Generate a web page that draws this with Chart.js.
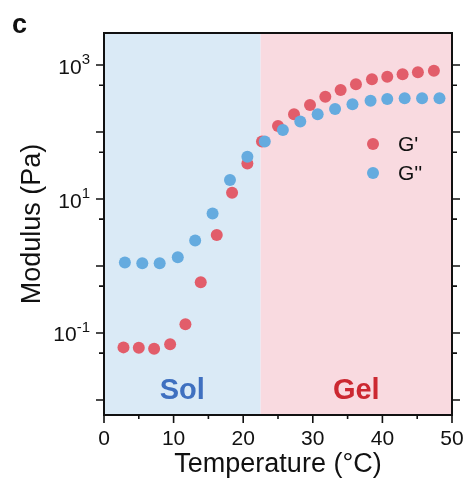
<!DOCTYPE html>
<html>
<head>
<meta charset="utf-8">
<script src="https://cdn.jsdelivr.net/npm/chart.js@4/dist/chart.umd.min.js"></script>
<style>
  body { margin: 0; background: #ffffff; }
  #rahmen { width: 467px; height: 481px; position: relative; }
</style>
</head>
<body>
<div id="rahmen"><canvas id="canvasModul"></canvas></div>
<script>
var temperaturGStrich = [2.8, 5.0, 7.2, 9.5, 11.7, 13.9, 16.2, 18.4, 20.6, 22.7, 25.0, 27.3, 29.6, 31.8, 34.0, 36.2, 38.5, 40.7, 42.9, 45.1, 47.4];
var werteGStrich = [0.061, 0.060, 0.058, 0.068, 0.135, 0.57, 2.9, 12.4, 34, 72, 123, 184, 253, 336, 424, 515, 612, 669, 726, 778, 822];

var temperaturGZweiStrich = [3.0, 5.5, 8.0, 10.6, 13.1, 15.6, 18.1, 20.6, 23.1, 25.7, 28.2, 30.7, 33.2, 35.7, 38.3, 40.7, 43.2, 45.7, 48.2];
var werteGZweiStrich = [1.13, 1.10, 1.10, 1.35, 2.4, 6.1, 19.2, 42.7, 72, 107, 143, 184, 220, 259, 293, 311, 318, 318, 318];

// Achsen
var xHauptTicks = [0, 10, 20, 30, 40, 50];
var xNebenTicks = [5, 15, 25, 35, 45];
var yHauptTicks = [0.01, 0.1, 1, 10, 100, 1000];
var yNebenTicks = [0.05, 0.5, 5, 50, 500];
var yBeschriftungExponenten = [3, 1, -1];

// Bereiche
var solGelGrenze = 22.5;
var bereichNamen = ["Sol", "Gel"];

var schrift = "'Liberation Sans', Arial, Helvetica, sans-serif";
var farbeRot = "#e25d6a";
var farbeBlau = "#65abdf";

function punkte(xWerte, yWerte) {
  return xWerte.map(function (t, i) {
    return { x: t, y: yWerte[i] };
  });
}

var zeichnePlugin = {
  id: "zeichnePlugin",
  beforeDatasetsDraw: function (chart) {
    var ctx = chart.ctx;
    var area = chart.chartArea;
    var grenze = chart.scales.x.getPixelForValue(solGelGrenze);

    ctx.save();
    // Hintergrund Sol / Gel
    ctx.fillStyle = "#daeaf6";
    ctx.fillRect(area.left, area.top, grenze - area.left, area.bottom - area.top);
    ctx.fillStyle = "#f9dae0";
    ctx.fillRect(grenze, area.top, area.right - grenze, area.bottom - area.top);

    ctx.font = "bold 29px " + schrift;
    ctx.textAlign = "center";
    ctx.textBaseline = "middle";
    ctx.fillStyle = "#3f70c0";
    ctx.fillText(bereichNamen[0], (area.left + grenze) / 2, area.bottom - 24);
    ctx.fillStyle = "#cc2831";
    ctx.fillText(bereichNamen[1], (grenze + area.right) / 2, area.bottom - 24);
    ctx.restore();
  },
  afterDatasetsDraw: function (chart) {
    var ctx = chart.ctx;
    var area = chart.chartArea;
    var xAchse = chart.scales.x;
    var yAchse = chart.scales.y;

    ctx.save();
    ctx.strokeStyle = "#111111";

    // Rahmen
    ctx.lineWidth = 2;
    ctx.strokeRect(area.left, area.top, area.right - area.left, area.bottom - area.top);

    // Striche
    ctx.lineWidth = 1.6;
    ctx.beginPath();
    xHauptTicks.forEach(function (v) {
      var px = xAchse.getPixelForValue(v);
      ctx.moveTo(px, area.bottom);
      ctx.lineTo(px, area.bottom + 8);
    });
    xNebenTicks.forEach(function (v) {
      var px = xAchse.getPixelForValue(v);
      ctx.moveTo(px, area.bottom);
      ctx.lineTo(px, area.bottom + 4);
    });
    yHauptTicks.forEach(function (v) {
      var py = yAchse.getPixelForValue(v);
      ctx.moveTo(area.left, py);
      ctx.lineTo(area.left - 8, py);
      ctx.moveTo(area.right, py);
      ctx.lineTo(area.right + 8, py);
    });
    yNebenTicks.forEach(function (v) {
      var py = yAchse.getPixelForValue(v);
      ctx.moveTo(area.left, py);
      ctx.lineTo(area.left - 5, py);
      ctx.moveTo(area.right, py);
      ctx.lineTo(area.right + 5, py);
    });
    ctx.stroke();

    // y-Beschriftung mit Hochzahl
    ctx.fillStyle = "#111111";
    ctx.textBaseline = "alphabetic";
    yBeschriftungExponenten.forEach(function (e) {
      var py = yAchse.getPixelForValue(Math.pow(10, e));
      var rechts = area.left - 14;
      ctx.font = "15px " + schrift;
      var hoch = String(e);
      var breite = ctx.measureText(hoch).width;
      ctx.textAlign = "right";
      ctx.fillText(hoch, rechts, py - 1);
      ctx.font = "21px " + schrift;
      ctx.fillText("10", rechts - breite, py + 8.5);
    });

    // Legende im Diagramm
    var legY = [144, 173];
    chart.data.datasets.forEach(function (ds, i) {
      ctx.fillStyle = ds.backgroundColor;
      ctx.beginPath();
      ctx.arc(373, legY[i], 6, 0, Math.PI * 2);
      ctx.fill();
      ctx.fillStyle = "#111111";
      ctx.font = "21px " + schrift;
      ctx.textAlign = "left";
      ctx.textBaseline = "middle";
      ctx.fillText(ds.label, 398, legY[i] + 1);
    });

    // Buchstabe c
    ctx.font = "bold 27px " + schrift;
    ctx.textAlign = "left";
    ctx.textBaseline = "alphabetic";
    ctx.fillText("c", 12, 33);
    ctx.restore();
  },
};

var canvas = document.getElementById("canvasModul").getContext("2d");
window.chartModul = new Chart(canvas, {
  type: "scatter",
  data: {
    datasets: [
      {
        label: "G'",
        data: punkte(temperaturGStrich, werteGStrich),
        backgroundColor: farbeRot,
        borderWidth: 0,
        pointRadius: 6,
        pointHoverRadius: 6,
        order: 2,
      },
      {
        label: "G''",
        data: punkte(temperaturGZweiStrich, werteGZweiStrich),
        backgroundColor: farbeBlau,
        borderWidth: 0,
        pointRadius: 6,
        pointHoverRadius: 6,
        order: 1,
      },
    ],
  },
  options: {
    animation: false,
    responsive: true,
    maintainAspectRatio: false,
    layout: {
      padding: { top: 33, left: 0, right: 15, bottom: 0 },
    },
    plugins: {
      legend: { display: false },
      tooltip: { enabled: false },
    },
    scales: {
      x: {
        type: "linear",
        min: 0,
        max: 50,
        grid: { display: false, drawTicks: false },
        border: { display: false },
        ticks: {
          stepSize: 10,
          padding: 12,
          color: "#111111",
          font: { size: 21, family: schrift },
        },
        title: {
          display: true,
          text: "Temperature (°C)",
          color: "#111111",
          font: { size: 27, family: schrift },
          padding: { top: 0, bottom: 0 },
        },
        afterFit: function (scale) {
          scale.height = 66;
          // kein Zusatzrand fuer die letzte Beschriftung
          scale.paddingLeft = 0;
          scale.paddingRight = 0;
        },
      },
      y: {
        type: "logarithmic",
        min: 0.00597,
        max: 3005,
        grid: { display: false, drawTicks: false },
        border: { display: false },
        ticks: { display: false },
        title: {
          display: true,
          text: "Modulus (Pa)",
          color: "#111111",
          font: { size: 27, family: schrift },
          padding: { top: 16, bottom: 0 },
        },
        afterFit: function (scale) {
          scale.width = 104;
          scale.paddingTop = 0;
          scale.paddingBottom = 0;
        },
      },
    },
  },
  plugins: [zeichnePlugin],
});
</script>
</body>
</html>
